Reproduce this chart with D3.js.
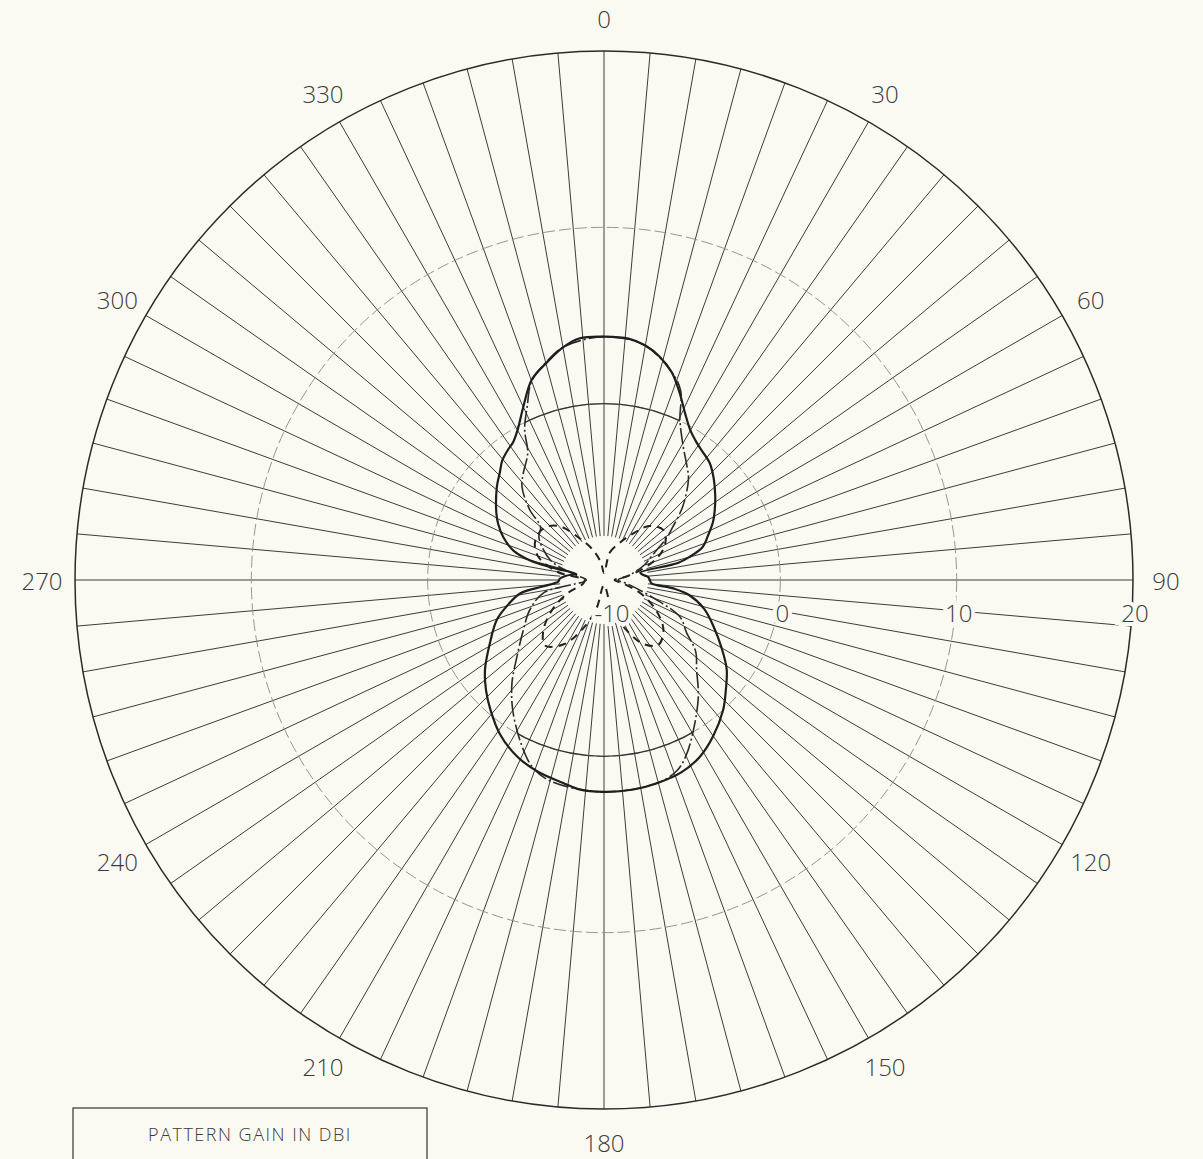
<!DOCTYPE html>
<html>
<head>
<meta charset="utf-8">
<script src="https://cdn.jsdelivr.net/npm/d3@7"></script>
<style>
  body { margin: 0; background: #fafaf2; }
  svg { display: block; }
  text { font-family: "Open Sans", "DejaVu Sans", sans-serif; font-weight: 300; fill: #3a3a3a; }
</style>
</head>
<body>
<svg id="chart" width="1203" height="1159"></svg>
<script>
// ---- data -----------------------------------------------------------
// azimuth labels (degrees, clockwise from top)
const angleLabels = [0, 30, 60, 90, 120, 150, 180, 210, 240, 270, 300, 330];
// gain rings (dBi)
const ringValues = [-10, 0, 10, 20];
// spoke spacing (degrees)
const spokeStep = 5;
const legendTitle = "PATTERN GAIN IN DBI";

// total gain: [azimuth deg, dBi]
const totalGain = [
  [0, 3.8], [6, 3.75], [10, 3.5], [14, 3.05], [18, 2.4], [22, 1.45], [26, 0.5],
  [30, -0.2], [34, -0.6], [38, -0.85], [42, -1.05], [47, -1.5], [53, -2.1],
  [58, -2.6], [62, -3.0], [67, -3.6], [71.5, -4.1], [75, -5.0], [77, -5.7],
  [78.5, -7.9], [82, -7.8], [86, -7.5], [90, -7.4], [94, -7.3], [97, -6.0],
  [100, -5.1], [106, -4.1], [113, -3.25], [120, -2.3], [126, -1.4], [132, -0.7],
  [137.5, 0.0], [145, 0.8], [151.5, 1.4], [158, 1.75], [165, 1.9], [172, 2.0],
  [180, 2.02], [187, 1.95], [191.4, 1.74], [199, 1.5], [206, 1.17], [214, 0.55],
  [221, -0.2], [227, -0.85], [233, -1.55], [241, -2.6], [249.5, -3.5], [255, -4.3],
  [261, -5.2], [264, -6.5], [268, -7.4], [272, -7.5], [276, -7.8], [280, -8.2],
  [282.5, -8.4], [283.5, -7.0], [285, -5.6], [288, -4.6], [293, -3.8], [298, -3.2],
  [302, -2.8], [311, -1.95], [316, -1.5], [319.6, -1.1], [324, -0.8], [326.6, -0.64],
  [330, -0.19], [335, 0.83], [340.2, 2.08], [345.3, 2.76], [350, 3.4], [354.3, 3.78]
];

// co-polar component: [azimuth deg, dBi]
const coPolGain = [
  [0, 3.8], [10, 3.5], [18, 2.4], [22, 1.6], [25.4, 0.04], [30.7, -1.2], [36, -2.0],
  [40, -2.55], [47, -3.9], [52.5, -5.1], [56, -5.7], [62, -6.8], [70, -7.6],
  [80, -8.6], [90, -9.2], [100, -8.6], [110, -7.0], [116, -5.2], [122.5, -4.45],
  [128, -3.4], [134, -2.7], [141, -1.5], [149, -0.13], [155, 1.0], [159, 1.57],
  [165, 1.9], [180, 2.02], [195, 1.8], [201, 1.35], [207, 0.38], [215, -0.98],
  [221.8, -2.17], [228.5, -3.4], [238, -4.6], [248, -5.46], [258, -6.5], [270, -9.0],
  [280, -8.4], [290, -6.8], [303, -5.6], [310, -5.3], [313.4, -4.2], [318.6, -2.97],
  [323, -2.4], [329, -1.6], [332.2, -0.35], [336, 0.72], [340, 2.0], [345, 2.76],
  [350, 3.4]
];

// cross-polar component: [azimuth deg, dBi]
const crossPolGain = [
  [0, -9.6], [12, -8.4], [23, -7.7], [32, -6.9], [40, -6.0], [50, -5.6], [60, -6.0],
  [68, -6.8], [75, -7.9], [82, -8.8], [90, -9.4], [100, -8.9], [110, -7.8],
  [120, -6.6], [130, -5.6], [140, -5.2], [148, -5.7], [156, -6.9], [165, -8.3],
  [180, -9.7], [195, -8.3], [204, -6.9], [212, -5.7], [222, -5.0], [230, -5.5],
  [240, -6.6], [250, -7.8], [260, -8.8], [270, -8.9], [280, -7.3], [290, -6.0],
  [300, -5.5], [311, -5.5], [320, -6.0], [330, -7.3], [340, -8.2], [350, -9.0]
];

// ---- layout ---------------------------------------------------------
const cx = 604, cy = 580, rOuter = 529;
const svg = d3.select("#chart");
const g = svg.append("g").attr("transform", `translate(${cx},${cy})`);

const r = d3.scaleLinear().domain([ringValues[0], ringValues[ringValues.length - 1]])
  .range([0, rOuter]).clamp(true);
const rad = d => d * Math.PI / 180;

// spokes
const spokeStart = r(-7.5);
g.append("g").selectAll("line")
  .data(d3.range(0, 360, spokeStep))
  .join("line")
  .attr("x1", d => spokeStart * Math.sin(rad(d)))
  .attr("y1", d => -spokeStart * Math.cos(rad(d)))
  .attr("x2", d => rOuter * Math.sin(rad(d)))
  .attr("y2", d => -rOuter * Math.cos(rad(d)))
  .attr("stroke", "#3c3c3c")
  .attr("stroke-width", 1);

// inner rings (faint, dashed)
g.append("g").selectAll("circle")
  .data(ringValues.slice(1, -1))
  .join("circle")
  .attr("r", d => r(d))
  .attr("fill", "none")
  .attr("stroke", "#8a8a8a")
  .attr("stroke-width", 0.9)
  .attr("stroke-dasharray", "12,4");

// outer ring
g.append("circle")
  .attr("r", r(ringValues[ringValues.length - 1]))
  .attr("fill", "none")
  .attr("stroke", "#2a2a2a")
  .attr("stroke-width", 1.5);

// pattern curves
const radial = d3.lineRadial()
  .angle(d => rad(d[0]))
  .radius(d => r(d[1]))
  .curve(d3.curveCatmullRomClosed.alpha(0.5));

// inside the co-polar lobes the 0 dBi ring is drawn solid
svg.append("defs").append("clipPath").attr("id", "lobeClip")
  .append("path").attr("d", radial(coPolGain));
g.append("g").attr("clip-path", "url(#lobeClip)")
  .selectAll("circle")
  .data(ringValues.slice(1, -1))
  .join("circle")
  .attr("r", d => r(d))
  .attr("fill", "none")
  .attr("stroke", "#333")
  .attr("stroke-width", 1.4);

g.append("path")
  .attr("d", radial(crossPolGain))
  .attr("fill", "none")
  .attr("stroke", "#222")
  .attr("stroke-width", 2)
  .attr("stroke-dasharray", "8,6");

g.append("path")
  .attr("d", radial(coPolGain))
  .attr("fill", "none")
  .attr("stroke", "#2a2a2a")
  .attr("stroke-width", 1.6)
  .attr("stroke-dasharray", "16,3,2,3");

g.append("path")
  .attr("d", radial(totalGain))
  .attr("fill", "none")
  .attr("stroke", "#1e1e1e")
  .attr("stroke-width", 2.2);

// azimuth labels
const labelR = 562;
g.append("g").selectAll("text")
  .data(angleLabels)
  .join("text")
  .attr("x", d => labelR * Math.sin(rad(d)))
  .attr("y", d => -labelR * Math.cos(rad(d)))
  .attr("text-anchor", "middle")
  .attr("dominant-baseline", "central")
  .attr("font-size", 24)
  .text(d => d);

// gain ring labels, knocked out of the spokes
g.append("g").selectAll("text")
  .data(ringValues)
  .join("text")
  .attr("x", d => r(d) + (d === ringValues[0] ? 8 : 2))
  .attr("y", 32)
  .attr("text-anchor", "middle")
  .attr("dominant-baseline", "central")
  .attr("font-size", 24)
  .attr("stroke", "#fafaf2")
  .attr("stroke-width", 8)
  .attr("paint-order", "stroke")
  .text(d => d);

// legend box
const legend = svg.append("g");
legend.append("rect")
  .attr("x", 73).attr("y", 1108)
  .attr("width", 354).attr("height", 90)
  .attr("fill", "none")
  .attr("stroke", "#333")
  .attr("stroke-width", 1.2);
legend.append("text")
  .attr("x", 250).attr("y", 1141)
  .attr("text-anchor", "middle")
  .attr("font-size", 18)
  .attr("letter-spacing", 1.5)
  .text(legendTitle);
</script>
</body>
</html>
